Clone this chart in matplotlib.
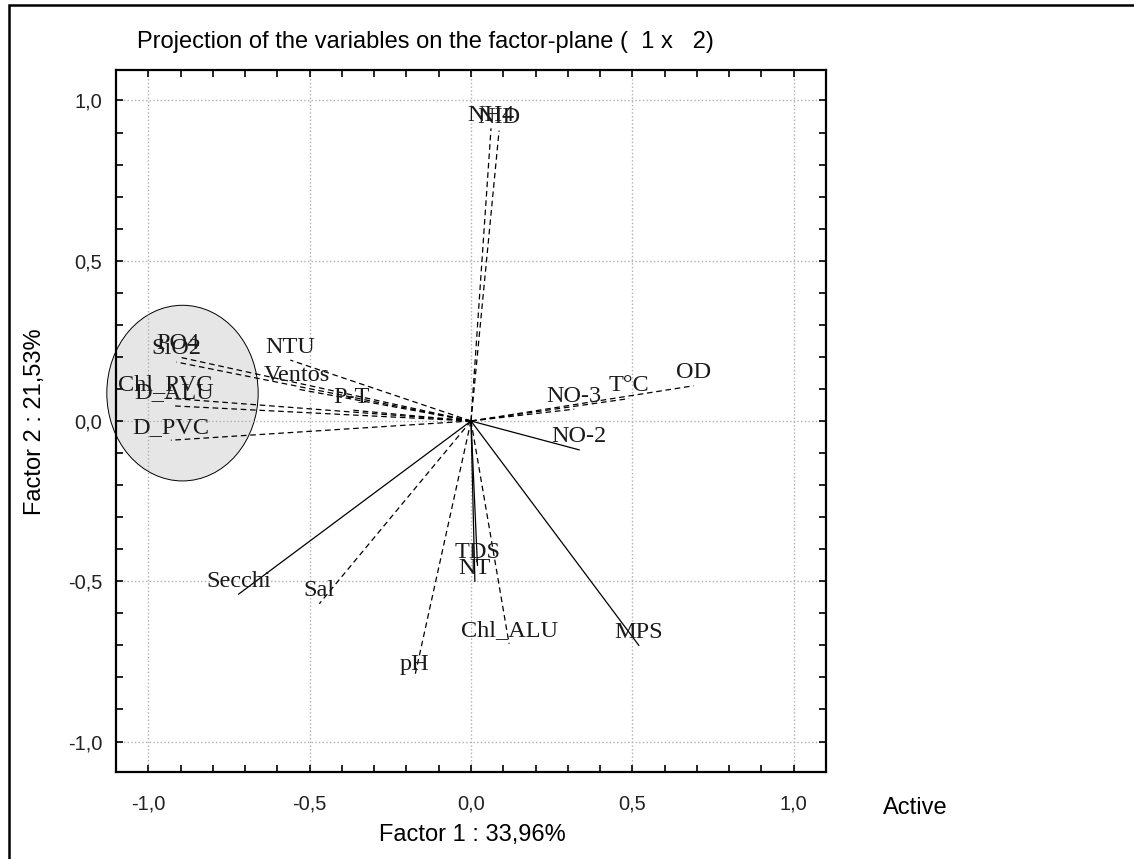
import matplotlib

matplotlib.use("Agg")
import matplotlib.pyplot as plt
from matplotlib.patches import Ellipse, Rectangle
from matplotlib.ticker import MultipleLocator, FuncFormatter

# variable coordinates on factor 1 / factor 2
variables = ["NH4", "NID", "PO4", "SiO2", "Chl_PVC", "D_ALU", "D_PVC", "NTU", "Ventos", "P-T",
             "OD", "T°C", "NO-3", "NO-2", "TDS", "NT", "Chl_ALU", "MPS", "Secchi", "Sal", "pH"]
factor1 = [0.062, 0.087, -0.907, -0.913, -0.947, -0.92, -0.93, -0.56, -0.54, -0.37,
           0.69, 0.49, 0.32, 0.335, 0.02, 0.012, 0.118, 0.52, -0.72, -0.47, -0.175]
factor2 = [0.913, 0.906, 0.20, 0.184, 0.072, 0.047, -0.06, 0.19, 0.10, 0.034,
           0.11, 0.07, 0.037, -0.09, -0.45, -0.50, -0.695, -0.70, -0.54, -0.57, -0.80]
solid_vars = ["Secchi", "MPS", "NO-2", "NT", "TDS"]

ticks = [-1.0, -0.5, 0.0, 0.5, 1.0]

fig = plt.figure(figsize=(11.34, 8.59), dpi=100)
ax = fig.add_axes([0.1023, 0.1013, 0.6261, 0.8172])
ax.set_xlim(-1.1, 1.1)
ax.set_ylim(-1.095, 1.095)

# shaded group of variables
ax.add_patch(Ellipse((-0.894, 0.087), 0.469, 0.548, facecolor="#e6e6e6",
                     edgecolor="black", linewidth=0.7, zorder=0.5, clip_on=False))

ax.set_xticks(ticks)
ax.set_yticks(ticks)
ax.xaxis.set_minor_locator(MultipleLocator(0.1))
ax.yaxis.set_minor_locator(MultipleLocator(0.1))
fmt = FuncFormatter(lambda v, p: f"{v:.1f}".replace(".", ",").replace("-0,0", "0,0"))
ax.xaxis.set_major_formatter(fmt)
ax.yaxis.set_major_formatter(fmt)
ax.tick_params(which="both", direction="in", top=True, right=True, length=5, width=1.2,
               labelsize=14.5, labelcolor="#222222", pad=10)
ax.tick_params(axis="x", pad=16)
ax.grid(True, which="major", linestyle=":", color="#b0b0b0", linewidth=1.0, zorder=1)
ax.set_axisbelow(True)
for s in ax.spines.values():
    s.set_linewidth(1.6)

for name, x, y in zip(variables, factor1, factor2):
    ls = "-" if name in solid_vars else (0, (4.5, 3))
    ax.plot([0, x], [0, y], color="black", linewidth=0.9, linestyle=ls, zorder=2)
    ax.annotate(name, (x, y), xytext=(0, 9.4), textcoords="offset points",
                ha="center", va="center", fontsize=17.5, family="Liberation Serif",
                color="#1a1a1a", zorder=3)

for lab in ax.get_xticklabels() + ax.get_yticklabels():
    lab.set_family("Liberation Sans")

fig.text(137 / 1134, 1 - 42 / 859, "Projection of the variables on the factor-plane (  1 x   2)",
         ha="left", va="center", fontsize=17, family="Liberation Sans")
fig.text(472 / 1134, 1 - 835 / 859, "Factor 1 : 33,96%", ha="center", va="center",
         fontsize=17, family="Liberation Sans")
fig.text(35 / 1134, 1 - 422 / 859, "Factor 2 : 21,53%", ha="center", va="center",
         rotation=90, fontsize=17, family="Liberation Sans")
fig.text(915 / 1134, 1 - 808 / 859, "Active", ha="center", va="center",
         fontsize=17, family="Liberation Sans")

# outer frame (cut off at right and bottom)
fig.add_artist(Rectangle((9 / 1134, -0.1), 1.2, 1 - 5 / 859 + 0.1, transform=fig.transFigure,
                         fill=False, edgecolor="black", linewidth=1.8))

fig.savefig("out.png", dpi=100)
plt.close(fig)
